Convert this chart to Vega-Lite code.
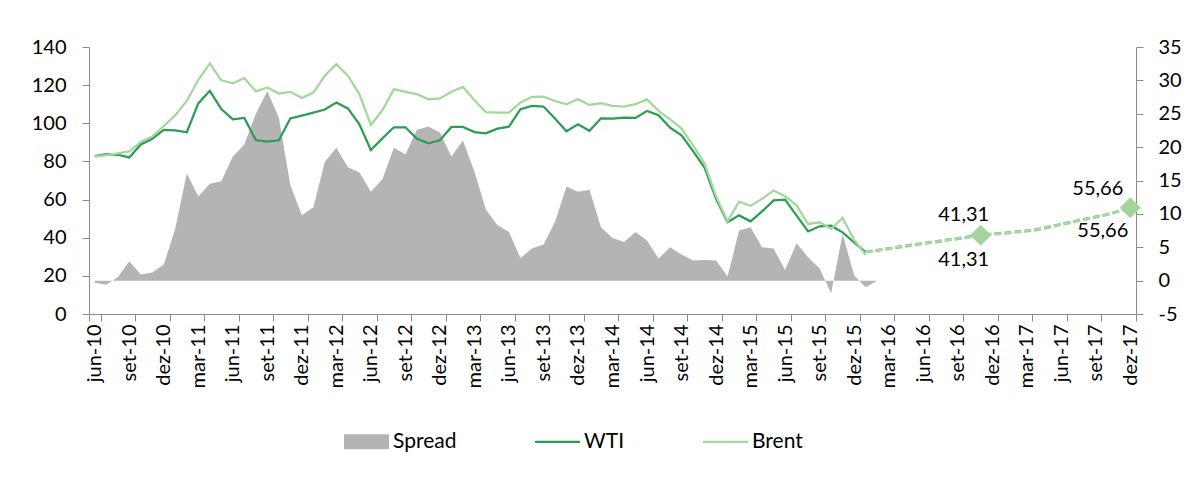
{
  "$schema": "https://vega.github.io/schema/vega-lite/v6.json",
  "width": 1047,
  "height": 267,
  "autosize": {"type": "none"},
  "padding": {"left": 89, "top": 47, "right": 57, "bottom": 174},
  "background": "white",
  "config": {
    "view": {"stroke": null},
    "font": "Lato",
    "locale": {"number": {"decimal": ",", "thousands": ".", "grouping": [3], "currency": ["", ""], "minus": "-"}},
    "axis": {"labelFont": "Lato", "labelFontSize": 20, "labelColor": "#000000", "tickColor": "#8c8c8c", "domainColor": "#8c8c8c", "grid": false, "title": null},
    "legend": {
      "orient": "none", "legendX": 255, "legendY": 372, "direction": "horizontal", "title": null,
      "labelFont": "Lato", "labelFontSize": 21, "labelColor": "#000000", "labelOffset": 4,
      "symbolSize": 2025, "columnPadding": 78, "symbolStrokeWidth": 0, "symbolOpacity": 1,
      "symbolType": {"expr": "datum.value === 'Spread' ? 'M-1,-0.333H1V0.333H-1Z' : 'M-1,-0.05H1V0.05H-1Z'"}
    }
  },
  "data": {"values": [
    {"m":"jun-10","WTI":82.8,"Brent":82.5,"Spread":-0.3},
    {"m":"jul-10","WTI":83.8,"Brent":83.3,"Spread":-0.6},
    {"m":"ago-10","WTI":83.5,"Brent":84.2,"Spread":0.5},
    {"m":"set-10","WTI":82.1,"Brent":85.3,"Spread":2.9},
    {"m":"out-10","WTI":88.9,"Brent":90.2,"Spread":0.9},
    {"m":"nov-10","WTI":91.9,"Brent":93.0,"Spread":1.2},
    {"m":"dez-10","WTI":96.6,"Brent":98.6,"Spread":2.4},
    {"m":"jan-11","WTI":96.3,"Brent":104.2,"Spread":7.8},
    {"m":"fev-11","WTI":95.3,"Brent":111.7,"Spread":16.1},
    {"m":"mar-11","WTI":110.4,"Brent":122.8,"Spread":12.6},
    {"m":"abr-11","WTI":117.0,"Brent":131.4,"Spread":14.5},
    {"m":"mai-11","WTI":107.5,"Brent":122.5,"Spread":14.9},
    {"m":"jun-11","WTI":102.1,"Brent":121.0,"Spread":18.6},
    {"m":"jul-11","WTI":102.8,"Brent":123.7,"Spread":20.4},
    {"m":"ago-11","WTI":91.2,"Brent":116.7,"Spread":25.0},
    {"m":"set-11","WTI":90.4,"Brent":118.8,"Spread":28.4},
    {"m":"out-11","WTI":91.1,"Brent":115.6,"Spread":24.4},
    {"m":"nov-11","WTI":102.5,"Brent":116.5,"Spread":14.3},
    {"m":"dez-11","WTI":104.0,"Brent":113.3,"Spread":9.8},
    {"m":"jan-12","WTI":105.6,"Brent":116.1,"Spread":11.0},
    {"m":"fev-12","WTI":107.2,"Brent":124.9,"Spread":17.8},
    {"m":"mar-12","WTI":110.9,"Brent":131.0,"Spread":19.9},
    {"m":"abr-12","WTI":107.8,"Brent":125.0,"Spread":17.0},
    {"m":"mai-12","WTI":99.5,"Brent":115.3,"Spread":16.2},
    {"m":"jun-12","WTI":86.0,"Brent":99.1,"Spread":13.3},
    {"m":"jul-12","WTI":92.1,"Brent":106.8,"Spread":15.2},
    {"m":"ago-12","WTI":97.9,"Brent":117.9,"Spread":19.9},
    {"m":"set-12","WTI":97.9,"Brent":116.5,"Spread":18.9},
    {"m":"out-12","WTI":91.9,"Brent":115.3,"Spread":22.6},
    {"m":"nov-12","WTI":89.5,"Brent":112.6,"Spread":23.1},
    {"m":"dez-12","WTI":91.1,"Brent":113.0,"Spread":22.2},
    {"m":"jan-13","WTI":98.1,"Brent":116.5,"Spread":18.6},
    {"m":"fev-13","WTI":98.1,"Brent":119.1,"Spread":21.0},
    {"m":"mar-13","WTI":95.4,"Brent":112.1,"Spread":16.3},
    {"m":"abr-13","WTI":94.7,"Brent":105.8,"Spread":10.6},
    {"m":"mai-13","WTI":97.2,"Brent":105.6,"Spread":8.3},
    {"m":"jun-13","WTI":98.2,"Brent":105.6,"Spread":7.3},
    {"m":"jul-13","WTI":107.4,"Brent":110.9,"Spread":3.4},
    {"m":"ago-13","WTI":109.1,"Brent":113.9,"Spread":4.8},
    {"m":"set-13","WTI":108.8,"Brent":114.0,"Spread":5.4},
    {"m":"out-13","WTI":102.5,"Brent":111.7,"Spread":8.8},
    {"m":"nov-13","WTI":95.8,"Brent":110.0,"Spread":14.1},
    {"m":"dez-13","WTI":99.5,"Brent":112.6,"Spread":13.3},
    {"m":"jan-14","WTI":96.1,"Brent":109.6,"Spread":13.6},
    {"m":"fev-14","WTI":102.6,"Brent":110.5,"Spread":8.0},
    {"m":"mar-14","WTI":102.5,"Brent":109.1,"Spread":6.4},
    {"m":"abr-14","WTI":103.0,"Brent":108.8,"Spread":5.8},
    {"m":"mai-14","WTI":102.8,"Brent":110.0,"Spread":7.3},
    {"m":"jun-14","WTI":106.5,"Brent":112.5,"Spread":6.0},
    {"m":"jul-14","WTI":104.2,"Brent":106.5,"Spread":3.3},
    {"m":"ago-14","WTI":97.7,"Brent":102.1,"Spread":5.0},
    {"m":"set-14","WTI":93.7,"Brent":97.2,"Spread":3.9},
    {"m":"out-14","WTI":85.4,"Brent":88.4,"Spread":3.0},
    {"m":"nov-14","WTI":76.7,"Brent":78.9,"Spread":3.1},
    {"m":"dez-14","WTI":60.4,"Brent":61.7,"Spread":3.0},
    {"m":"jan-15","WTI":48.1,"Brent":48.6,"Spread":0.6},
    {"m":"fev-15","WTI":51.7,"Brent":58.9,"Spread":7.5},
    {"m":"mar-15","WTI":48.6,"Brent":56.7,"Spread":8.0},
    {"m":"abr-15","WTI":53.8,"Brent":60.4,"Spread":5.0},
    {"m":"mai-15","WTI":59.6,"Brent":64.7,"Spread":4.8},
    {"m":"jun-15","WTI":60.0,"Brent":61.7,"Spread":1.6},
    {"m":"jul-15","WTI":51.6,"Brent":57.0,"Spread":5.6},
    {"m":"ago-15","WTI":43.3,"Brent":47.2,"Spread":3.5},
    {"m":"set-15","WTI":46.0,"Brent":48.1,"Spread":1.8},
    {"m":"out-15","WTI":46.3,"Brent":44.6,"Spread":-1.9},
    {"m":"nov-15","WTI":42.8,"Brent":50.4,"Spread":7.0},
    {"m":"dez-15","WTI":37.5,"Brent":38.9,"Spread":0.8},
    {"m":"jan-16","WTI":32.5,"Brent":31.0,"Spread":-1.0,"WTI_proj":32.5,"Brent_proj":32.5},
    {"m":"fev-16","Spread":0.0,"WTI_proj":33.4,"Brent_proj":33.4},
    {"m":"mar-16","WTI_proj":34.3,"Brent_proj":34.3},
    {"m":"abr-16","WTI_proj":35.2,"Brent_proj":35.2},
    {"m":"mai-16","WTI_proj":36.1,"Brent_proj":36.1},
    {"m":"jun-16","WTI_proj":37.0,"Brent_proj":37.0},
    {"m":"jul-16","WTI_proj":37.8,"Brent_proj":37.8},
    {"m":"ago-16","WTI_proj":38.7,"Brent_proj":38.7},
    {"m":"set-16","WTI_proj":39.5,"Brent_proj":39.5},
    {"m":"out-16","WTI_proj":40.4,"Brent_proj":40.4},
    {"m":"nov-16","WTI_proj":41.31,"Brent_proj":41.31},
    {"m":"dez-16","WTI_proj":41.9,"Brent_proj":41.9},
    {"m":"jan-17","WTI_proj":42.4,"Brent_proj":42.4},
    {"m":"fev-17","WTI_proj":43.0,"Brent_proj":43.0},
    {"m":"mar-17","WTI_proj":43.6,"Brent_proj":43.6},
    {"m":"abr-17","WTI_proj":44.4,"Brent_proj":44.4},
    {"m":"mai-17","WTI_proj":45.7,"Brent_proj":45.7},
    {"m":"jun-17","WTI_proj":47.0,"Brent_proj":47.0},
    {"m":"jul-17","WTI_proj":48.3,"Brent_proj":48.3},
    {"m":"ago-17","WTI_proj":49.7,"Brent_proj":49.7},
    {"m":"set-17","WTI_proj":50.9,"Brent_proj":50.9},
    {"m":"out-17","WTI_proj":52.2,"Brent_proj":52.2},
    {"m":"nov-17","WTI_proj":53.9,"Brent_proj":53.9},
    {"m":"dez-17","WTI_proj":55.66,"Brent_proj":55.66}
  ]},
  "encoding": {
    "x": {
      "field": "m", "type": "ordinal", "bandPosition": 0.5,
      "scale": {"type": "band", "paddingInner": 0, "paddingOuter": 0, "domain": [
        "jun-10","jul-10","ago-10","set-10","out-10","nov-10","dez-10",
        "jan-11","fev-11","mar-11","abr-11","mai-11","jun-11","jul-11","ago-11","set-11","out-11","nov-11","dez-11",
        "jan-12","fev-12","mar-12","abr-12","mai-12","jun-12","jul-12","ago-12","set-12","out-12","nov-12","dez-12",
        "jan-13","fev-13","mar-13","abr-13","mai-13","jun-13","jul-13","ago-13","set-13","out-13","nov-13","dez-13",
        "jan-14","fev-14","mar-14","abr-14","mai-14","jun-14","jul-14","ago-14","set-14","out-14","nov-14","dez-14",
        "jan-15","fev-15","mar-15","abr-15","mai-15","jun-15","jul-15","ago-15","set-15","out-15","nov-15","dez-15",
        "jan-16","fev-16","mar-16","abr-16","mai-16","jun-16","jul-16","ago-16","set-16","out-16","nov-16","dez-16",
        "jan-17","fev-17","mar-17","abr-17","mai-17","jun-17","jul-17","ago-17","set-17","out-17","nov-17","dez-17"]},
      "axis": {
        "values": ["jun-10","set-10","dez-10","mar-11","jun-11","set-11","dez-11","mar-12","jun-12","set-12","dez-12","mar-13","jun-13","set-13","dez-13","mar-14","jun-14","set-14","dez-14","mar-15","jun-15","set-15","dez-15","mar-16","jun-16","set-16","dez-16","mar-17","jun-17","set-17","dez-17"],
        "tickBand": "extent", "labelAngle": -90, "tickSize": 7, "labelPadding": 3, "title": null
      }
    }
  },
  "layer": [
    {
      "mark": {"type": "area", "opacity": 1},
      "encoding": {
        "y": {"field": "Spread", "type": "quantitative", "scale": {"domain": [-5, 35], "nice": false, "zero": false},
              "axis": {"orient": "right", "values": [-5,0,5,10,15,20,25,30,35], "tickSize": 7, "labelPadding": 15, "title": null}},
        "color": {"datum": "Spread", "type": "nominal",
          "scale": {"domain": ["Spread", "WTI", "Brent"], "range": ["#b4b4b4", "#2c9c56", "#a3d79c"]}}
      }
    },
    {
      "mark": {"type": "line", "strokeWidth": 2.25},
      "encoding": {
        "y": {"field": "WTI", "type": "quantitative", "scale": {"domain": [0, 140], "nice": false},
              "axis": {"orient": "left", "values": [0,20,40,60,80,100,120,140], "tickSize": 7, "labelPadding": 16, "title": null}},
        "color": {"datum": "WTI", "type": "nominal", "scale": {"domain": ["Spread", "WTI", "Brent"], "range": ["#b4b4b4", "#2c9c56", "#a3d79c"]}}
      }
    },
    {
      "mark": {"type": "line", "strokeWidth": 2.25},
      "encoding": {
        "y": {"field": "Brent", "type": "quantitative", "scale": {"domain": [0, 140], "nice": false}, "axis": null},
        "color": {"datum": "Brent", "type": "nominal", "scale": {"domain": ["Spread", "WTI", "Brent"], "range": ["#b4b4b4", "#2c9c56", "#a3d79c"]}}
      }
    },
    {
      "mark": {"type": "line", "strokeWidth": 3.2, "strokeDash": [7, 3], "color": "#86c290"},
      "encoding": {
        "y": {"field": "WTI_proj", "type": "quantitative", "scale": {"domain": [0, 140], "nice": false}, "axis": null}
      }
    },
    {
      "mark": {"type": "line", "strokeWidth": 2, "strokeDash": [7, 3], "color": "#acdaa6"},
      "encoding": {
        "y": {"field": "Brent_proj", "type": "quantitative", "scale": {"domain": [0, 140], "nice": false}, "axis": null}
      }
    },
    {
      "transform": [{"filter": "datum.m === 'nov-16' || datum.m === 'dez-17'"}],
      "mark": {"type": "point", "shape": "diamond", "size": 440, "filled": true, "opacity": 1, "color": "#a3d49e"},
      "encoding": {
        "y": {"field": "WTI_proj", "type": "quantitative", "scale": {"domain": [0, 140], "nice": false}, "axis": null}
      }
    },
    {
      "transform": [{"filter": "datum.m === 'nov-16'"}],
      "mark": {"type": "text", "font": "Lato", "fontSize": 20, "color": "#000000", "align": "center", "baseline": "middle", "dx": -17, "dy": -20},
      "encoding": {
        "y": {"field": "WTI_proj", "type": "quantitative", "scale": {"domain": [0, 140], "nice": false}, "axis": null},
        "text": {"field": "WTI_proj", "type": "quantitative", "format": ".2f"}
      }
    },
    {
      "transform": [{"filter": "datum.m === 'nov-16'"}],
      "mark": {"type": "text", "font": "Lato", "fontSize": 20, "color": "#000000", "align": "center", "baseline": "middle", "dx": -17, "dy": 25},
      "encoding": {
        "y": {"field": "Brent_proj", "type": "quantitative", "scale": {"domain": [0, 140], "nice": false}, "axis": null},
        "text": {"field": "Brent_proj", "type": "quantitative", "format": ".2f"}
      }
    },
    {
      "transform": [{"filter": "datum.m === 'dez-17'"}],
      "mark": {"type": "text", "font": "Lato", "fontSize": 20, "color": "#000000", "align": "right", "baseline": "middle", "dx": -7, "dy": -19},
      "encoding": {
        "y": {"field": "WTI_proj", "type": "quantitative", "scale": {"domain": [0, 140], "nice": false}, "axis": null},
        "text": {"field": "WTI_proj", "type": "quantitative", "format": ".2f"}
      }
    },
    {
      "transform": [{"filter": "datum.m === 'dez-17'"}],
      "mark": {"type": "text", "font": "Lato", "fontSize": 20, "color": "#000000", "align": "right", "baseline": "middle", "dx": -2, "dy": 23},
      "encoding": {
        "y": {"field": "Brent_proj", "type": "quantitative", "scale": {"domain": [0, 140], "nice": false}, "axis": null},
        "text": {"field": "Brent_proj", "type": "quantitative", "format": ".2f"}
      }
    }
  ],
  "resolve": {"scale": {"y": "independent"}, "axis": {"y": "independent"}}
}
